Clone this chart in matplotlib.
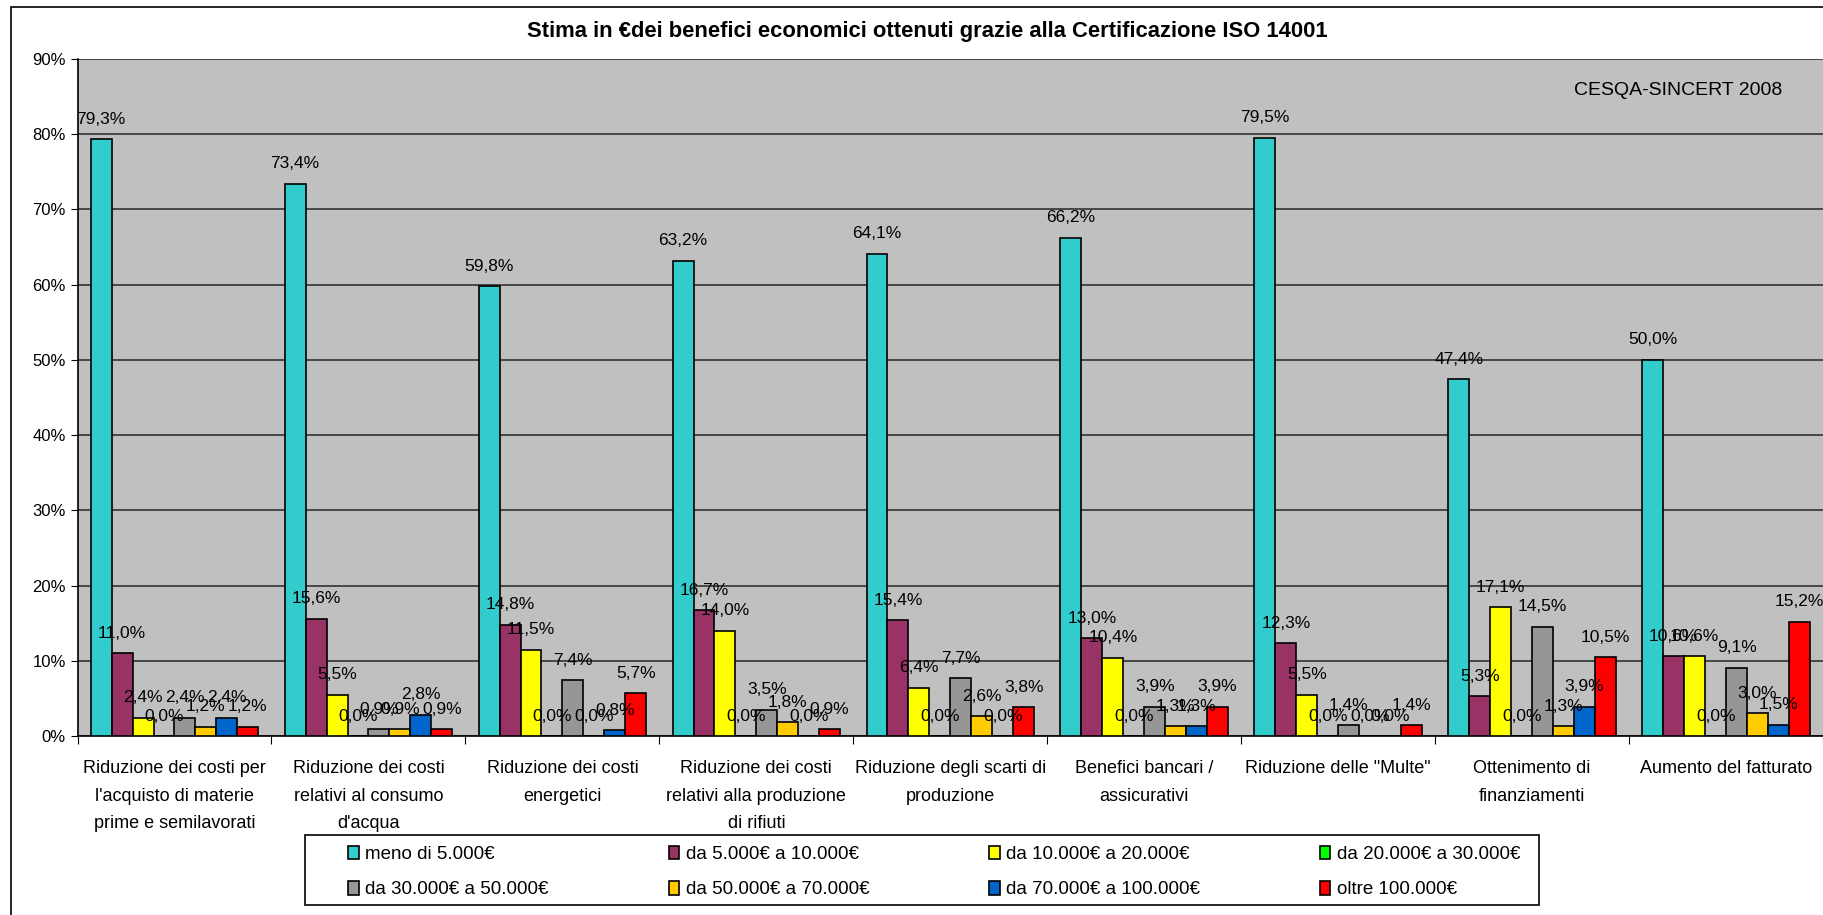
import matplotlib.pyplot as plt
import numpy as np
from matplotlib.patches import Rectangle

plt.rcParams['font.family'] = ['Liberation Sans', 'DejaVu Sans']

categories = ["Riduzione dei costi per\nl'acquisto di materie\nprime e semilavorati",
              "Riduzione dei costi\nrelativi al consumo\nd'acqua",
              "Riduzione dei costi\nenergetici",
              "Riduzione dei costi\nrelativi alla produzione\ndi rifiuti",
              "Riduzione degli scarti di\nproduzione",
              "Benefici bancari /\nassicurativi",
              "Riduzione delle \"Multe\"",
              "Ottenimento di\nfinanziamenti",
              "Aumento del fatturato"]

series_names = ["meno di 5.000€", "da 5.000€ a 10.000€", "da 10.000€ a 20.000€",
                "da 20.000€ a 30.000€", "da 30.000€ a 50.000€", "da 50.000€ a 70.000€",
                "da 70.000€ a 100.000€", "oltre 100.000€"]

meno_5k    = [79.3, 73.4, 59.8, 63.2, 64.1, 66.2, 79.5, 47.4, 50.0]
da_5_10k   = [11.0, 15.6, 14.8, 16.7, 15.4, 13.0, 12.3, 5.3, 10.6]
da_10_20k  = [2.4, 5.5, 11.5, 14.0, 6.4, 10.4, 5.5, 17.1, 10.6]
da_20_30k  = [0.0, 0.0, 0.0, 0.0, 0.0, 0.0, 0.0, 0.0, 0.0]
da_30_50k  = [2.4, 0.9, 7.4, 3.5, 7.7, 3.9, 1.4, 14.5, 9.1]
da_50_70k  = [1.2, 0.9, 0.0, 1.8, 2.6, 1.3, 0.0, 1.3, 3.0]
da_70_100k = [2.4, 2.8, 0.8, 0.0, 0.0, 1.3, 0.0, 3.9, 1.5]
oltre_100k = [1.2, 0.9, 5.7, 0.9, 3.8, 3.9, 1.4, 10.5, 15.2]

values = [meno_5k, da_5_10k, da_10_20k, da_20_30k, da_30_50k, da_50_70k, da_70_100k, oltre_100k]
colors = ['#33CCCC', '#993366', '#FFFF00', '#00FF00', '#969696', '#FFCC00', '#0066CC', '#FF0000']

fig = plt.figure(figsize=(18.24, 9.15), dpi=100)
fig.patches.append(Rectangle((0.006, -0.01), 1.0, 1.002, transform=fig.transFigure,
                             fill=False, edgecolor='black', linewidth=1.2))
ax = fig.add_axes([0.0425, 0.1956, 0.957, 0.740])
ax.set_facecolor('#C0C0C0')

x = np.arange(len(categories))
w = 0.108
handles = []
for i, (name, vals, c) in enumerate(zip(series_names, values, colors)):
    pos = x - 3.5 * w + i * w
    bars = ax.bar(pos, vals, w, color=c, edgecolor='black', linewidth=1.2, label=name, zorder=3)
    handles.append(bars)
    for xp, v in zip(pos, vals):
        ax.annotate(f"{v:.1f}%".replace('.', ','), (xp, v), xytext=(0, 9),
                    textcoords='offset points', ha='center', va='bottom', fontsize=12.5, zorder=4)

ax.set_xlim(-0.5, len(categories) - 0.5)
ax.set_ylim(0, 90)
ax.set_yticks(np.arange(0, 91, 10))
ax.set_yticklabels([f"{t}%" for t in range(0, 91, 10)], fontsize=12)
ax.yaxis.grid(True, color='#333333', linewidth=1.2, zorder=0)
ax.set_axisbelow(True)
ax.set_xticks(np.arange(len(categories) + 1) - 0.5)
ax.set_xticklabels([])
ax.tick_params(axis='x', length=6, direction='out')
ax.tick_params(axis='y', length=5, direction='out')
for s in ['top', 'right']:
    ax.spines[s].set_visible(False)
ax.spines['left'].set_linewidth(1.2)
ax.spines['bottom'].set_linewidth(1.2)
for xi, cat in zip(x, categories):
    ax.text(xi, -3.2, cat, ha='center', va='top', fontsize=13, linespacing=1.8)

ax.text(0.9765, 0.953, "CESQA-SINCERT 2008", transform=ax.transAxes, ha='right', va='center', fontsize=14)
fig.text(0.5085, 0.966, "Stima in €dei benefici economici ottenuti grazie alla Certificazione ISO 14001",
         ha='center', va='center', fontsize=15.8, fontweight='bold')

# legend: row-wise order inside a separate frame
order = [0, 4, 1, 5, 2, 6, 3, 7]
fig.patches.append(Rectangle((0.1672, 0.0109), 0.6766, 0.0765, transform=fig.transFigure,
                             facecolor='white', edgecolor='black', linewidth=1.2, zorder=1))
leg = fig.legend([handles[k] for k in order], [series_names[k] for k in order],
                 loc='center left', bbox_to_anchor=(0.191, 0.047), ncol=4, fontsize=13.5,
                 frameon=False, handlelength=0.55, handleheight=0.75, handletextpad=0.35,
                 borderaxespad=0.0, borderpad=0.0, labelspacing=0.95, columnspacing=6.4)

fig.savefig('out.png', dpi=100)
